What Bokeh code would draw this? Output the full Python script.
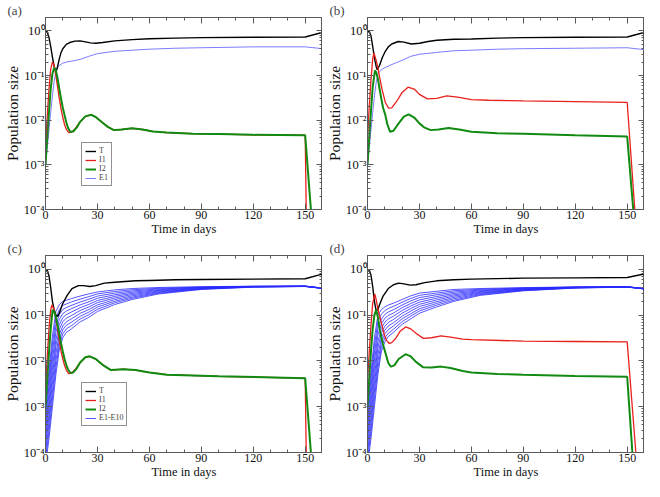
from bokeh.plotting import figure
from bokeh.layouts import column, row
from bokeh.models import (SingleIntervalTicker, FixedTicker, LinearAxis, LogAxis,
                          CustomJSTickFormatter, Legend)
from bokeh.embed import file_html
from bokeh.resources import INLINE

FONT = "Liberation Serif"
FRAME = "#5a5a5a"

# ---------------- data ----------------
x_major_interval = 30
y_ticks = [1e-4, 1e-3, 1e-2, 1e-1, 1.0]
y_tick_labels = ["10\u207b\u2074", "10\u207b\u00b3", "10\u207b\u00b2", "10\u207b\u00b9", "10\u2070"]
x_axis_title = "Time in days"
y_axis_title = "Population size"
panel_labels = ["(a)", "(b)", "(c)", "(d)"]

# panel (a)
tT_a = [0, 1, 2, 3, 4, 5, 6, 7, 8, 9, 10, 12, 14, 17, 20, 23, 26, 29, 33, 40, 50, 60, 75, 90, 120, 150, 160]
T_a = [1.0, 0.95, 0.72, 0.45, 0.26, 0.16, 0.12, 0.16, 0.24, 0.33, 0.4, 0.5, 0.55, 0.59, 0.6, 0.57, 0.54, 0.53, 0.55, 0.6, 0.64, 0.67, 0.69, 0.71, 0.72, 0.73, 0.93]
tI1_a = [0, 1, 2, 3, 4, 5, 6, 7, 8, 9, 10, 11, 12, 13.4, 15, 17, 20, 23, 26.5, 29, 33, 36, 39.5, 44, 50, 56, 62, 70, 85, 100, 120, 150, 150.6, 151.2]
I1_a = [0.0025, 0.012, 0.05, 0.14, 0.2, 0.17, 0.1, 0.055, 0.03, 0.018, 0.0115, 0.008, 0.0063, 0.0053, 0.0054, 0.0064, 0.0092, 0.0122, 0.0132, 0.0118, 0.0088, 0.0071, 0.006, 0.0062, 0.0066, 0.0062, 0.0056, 0.0053, 0.005, 0.0049, 0.0047, 0.0046, 0.0001, 0.00001]
tI2_a = [0, 1, 2, 3, 4, 5, 6, 7, 8, 9, 10, 11, 12, 13, 14.3, 16, 18, 20, 23, 26.5, 29, 33, 36, 39.5, 44, 50, 56, 62, 70, 85, 100, 120, 150, 153.3, 155]
I2_a = [0.001, 0.004, 0.015, 0.05, 0.11, 0.15, 0.13, 0.085, 0.05, 0.03, 0.019, 0.013, 0.009, 0.0068, 0.0055, 0.0056, 0.0068, 0.0092, 0.0122, 0.0132, 0.0118, 0.0088, 0.0071, 0.006, 0.0062, 0.0066, 0.0062, 0.0056, 0.0053, 0.005, 0.0049, 0.0047, 0.0046, 0.0001, 0.000015]
tE1_a = [0, 1, 2, 3, 4, 5, 6, 7, 8, 10, 12, 15, 20, 25, 30, 40, 50, 60, 75, 90, 120, 150, 160]
E1_a = [0.001, 0.0025, 0.006, 0.015, 0.035, 0.075, 0.12, 0.15, 0.17, 0.19, 0.2, 0.21, 0.23, 0.27, 0.31, 0.35, 0.37, 0.39, 0.41, 0.42, 0.44, 0.44, 0.40]

# panel (b)
tT_b = [0, 1, 2, 3, 4, 5, 5.6, 7, 8.5, 10.3, 12, 14, 17.8, 21, 25.3, 30, 35, 40, 50, 60, 75, 90, 120, 150, 160]
T_b = [1.0, 0.96, 0.78, 0.45, 0.25, 0.16, 0.135, 0.17, 0.25, 0.35, 0.44, 0.51, 0.58, 0.56, 0.51, 0.53, 0.58, 0.62, 0.65, 0.66, 0.69, 0.71, 0.72, 0.73, 0.93]
tI1_b = [0, 1, 2, 3, 3.7, 5, 6, 6.6, 8.4, 10.3, 12.2, 14, 17, 20, 23.4, 27, 30, 34.6, 40, 45.8, 52, 60, 70, 90, 120, 150, 154.4, 156]
I1_b = [0.004, 0.02, 0.08, 0.24, 0.32, 0.22, 0.15, 0.11, 0.049, 0.025, 0.0187, 0.019, 0.027, 0.042, 0.055, 0.05, 0.038, 0.03, 0.031, 0.035, 0.033, 0.029, 0.028, 0.027, 0.026, 0.025, 0.0001, 0.00003]
tI2_b = [0, 1, 2, 3, 4.3, 5, 6, 7, 8, 9, 10.3, 11.5, 13.1, 15, 18, 21, 23.8, 27, 30, 33, 36.5, 41, 46.8, 53, 60, 75, 90, 120, 150, 153.5, 155]
I2_b = [0.001, 0.004, 0.016, 0.055, 0.13, 0.12, 0.085, 0.05, 0.03, 0.019, 0.013, 0.008, 0.0055, 0.0058, 0.0085, 0.012, 0.0135, 0.0115, 0.0085, 0.0068, 0.006, 0.0062, 0.0067, 0.0062, 0.0055, 0.0051, 0.005, 0.0046, 0.0043, 0.0001, 0.00002]
tE1_b = [0, 1, 2, 3, 4, 5, 6, 8, 10, 13, 16, 20, 25, 30, 40, 50, 60, 75, 90, 120, 150, 160]
E1_b = [0.001, 0.0025, 0.006, 0.015, 0.035, 0.07, 0.11, 0.135, 0.15, 0.17, 0.19, 0.22, 0.27, 0.3, 0.33, 0.36, 0.37, 0.39, 0.4, 0.41, 0.42, 0.38]

# panel (c)
tT_c = [0, 1, 2, 3, 4, 5, 6, 7, 8, 9.7, 12.5, 15.3, 19, 22, 25.6, 29, 34, 40, 52, 60, 75, 90, 120, 150, 160]
T_c = [1.0, 0.95, 0.72, 0.4, 0.2, 0.13, 0.1, 0.094, 0.11, 0.17, 0.27, 0.38, 0.44, 0.44, 0.42, 0.44, 0.5, 0.52, 0.56, 0.57, 0.59, 0.6, 0.61, 0.62, 0.79]
tI1_c = [0, 1, 2, 3, 3.7, 5, 6, 7, 8, 9, 10, 11, 12, 13.4, 15, 17, 20, 23, 25.5, 29, 33, 37.8, 45, 52, 60, 70, 100, 150, 150.6, 151.2]
I1_c = [0.0025, 0.012, 0.05, 0.13, 0.166, 0.13, 0.085, 0.048, 0.027, 0.016, 0.011, 0.008, 0.0063, 0.0053, 0.0054, 0.0064, 0.0092, 0.012, 0.0126, 0.011, 0.0082, 0.0063, 0.0066, 0.0063, 0.0056, 0.005, 0.0046, 0.0042, 0.0001, 0.00001]
tI2_c = [0, 1, 2, 3, 4.1, 5, 6, 7, 8, 9, 10, 11, 12, 13, 14.3, 16, 18, 20, 23, 25.5, 29, 33, 37.8, 45, 52, 60, 70, 100, 150, 153.3, 155]
I2_c = [0.001, 0.004, 0.015, 0.05, 0.13, 0.12, 0.09, 0.06, 0.038, 0.024, 0.016, 0.011, 0.0082, 0.0065, 0.0055, 0.0056, 0.0068, 0.0092, 0.012, 0.0126, 0.011, 0.0082, 0.0063, 0.0066, 0.0063, 0.0056, 0.005, 0.0046, 0.0042, 0.0001, 0.000015]

# E1..E10 in panels (c) and (d), common time grid
tE = [0, 2, 4, 6, 8, 10, 12, 15, 20, 25, 30, 40, 50, 65, 90, 120, 150, 160]
E_c = [
    [1.0e-3, 6.0e-3, 0.035, 0.12, 0.17, 0.20, 0.21, 0.23, 0.26, 0.29, 0.32, 0.355, 0.38, 0.40, 0.417, 0.427, 0.43, 0.39],
    [7.2e-4, 4.1e-3, 0.0234, 0.085, 0.132, 0.163, 0.175, 0.194, 0.223, 0.253, 0.29, 0.327, 0.357, 0.384, 0.41, 0.425, 0.429, 0.389],
    [5.1e-4, 2.8e-3, 0.0158, 0.059, 0.103, 0.132, 0.146, 0.163, 0.193, 0.222, 0.26, 0.301, 0.336, 0.371, 0.404, 0.423, 0.428, 0.388],
    [3.7e-4, 1.9e-3, 0.0106, 0.042, 0.080, 0.108, 0.122, 0.138, 0.167, 0.195, 0.233, 0.277, 0.316, 0.357, 0.398, 0.421, 0.427, 0.387],
    [2.6e-4, 1.3e-3, 0.0072, 0.029, 0.062, 0.088, 0.102, 0.117, 0.145, 0.171, 0.208, 0.256, 0.297, 0.345, 0.392, 0.419, 0.426, 0.386],
    [1.9e-4, 9.1e-4, 0.0048, 0.021, 0.049, 0.072, 0.085, 0.098, 0.126, 0.150, 0.187, 0.236, 0.280, 0.333, 0.385, 0.417, 0.425, 0.385],
    [1.36e-4, 6.2e-4, 0.0033, 0.0145, 0.038, 0.058, 0.071, 0.083, 0.109, 0.132, 0.167, 0.217, 0.263, 0.321, 0.379, 0.415, 0.424, 0.384],
    [9.7e-5, 4.3e-4, 0.0022, 0.0102, 0.029, 0.048, 0.060, 0.070, 0.094, 0.116, 0.150, 0.200, 0.247, 0.310, 0.374, 0.413, 0.423, 0.383],
    [7.0e-5, 2.9e-4, 0.0015, 0.0071, 0.023, 0.039, 0.050, 0.059, 0.082, 0.102, 0.134, 0.185, 0.233, 0.299, 0.368, 0.411, 0.422, 0.382],
    [5.0e-5, 2.0e-4, 0.001, 0.005, 0.018, 0.032, 0.042, 0.050, 0.071, 0.089, 0.120, 0.170, 0.219, 0.288, 0.363, 0.407, 0.420, 0.380],
]

# panel (d)
tT_d = [0, 1, 2, 3, 4, 5, 6, 7, 9, 12, 15, 18, 21, 24.7, 28, 33, 40, 50, 60, 90, 120, 150, 160]
T_d = [1.0, 0.96, 0.75, 0.42, 0.2, 0.125, 0.13, 0.17, 0.26, 0.38, 0.46, 0.5, 0.48, 0.45, 0.46, 0.51, 0.56, 0.59, 0.61, 0.64, 0.65, 0.66, 0.79]
tI1_d = [0, 1, 2, 3, 4.2, 5, 6, 7.9, 9.7, 11, 12.6, 14, 16, 19, 22, 25, 28, 32.2, 37, 42.5, 48, 55, 60, 90, 120, 150, 155, 157]
I1_d = [0.004, 0.015, 0.06, 0.18, 0.29, 0.22, 0.135, 0.07, 0.037, 0.028, 0.024, 0.025, 0.03, 0.045, 0.055, 0.05, 0.04, 0.031, 0.032, 0.035, 0.033, 0.03, 0.029, 0.027, 0.0265, 0.026, 0.0001, 0.00002]
tI2_d = [0, 1, 2, 3, 4, 5, 6, 7, 8.8, 10.7, 12, 13.5, 15.5, 18, 22, 25, 28, 32, 37, 42.5, 48, 55, 60, 75, 90, 120, 150, 153, 155]
I2_d = [0.001, 0.004, 0.016, 0.05, 0.1, 0.13, 0.09, 0.05, 0.024, 0.0135, 0.009, 0.0075, 0.008, 0.011, 0.014, 0.0125, 0.0095, 0.0073, 0.0072, 0.0075, 0.007, 0.006, 0.0056, 0.0052, 0.005, 0.0047, 0.0045, 0.0001, 0.00002]
E_d = [
    [1.0e-3, 5.6e-3, 0.0316, 0.1, 0.132, 0.151, 0.166, 0.182, 0.219, 0.263, 0.302, 0.331, 0.363, 0.38, 0.398, 0.412, 0.417, 0.38],
    [7.2e-4, 3.9e-3, 0.0215, 0.072, 0.104, 0.125, 0.139, 0.155, 0.191, 0.231, 0.270, 0.303, 0.340, 0.366, 0.391, 0.41, 0.416, 0.379],
    [5.1e-4, 2.7e-3, 0.0147, 0.051, 0.082, 0.103, 0.117, 0.131, 0.166, 0.204, 0.241, 0.278, 0.318, 0.352, 0.384, 0.407, 0.415, 0.378],
    [3.7e-4, 1.85e-3, 0.01, 0.037, 0.065, 0.085, 0.098, 0.111, 0.145, 0.179, 0.215, 0.255, 0.297, 0.339, 0.377, 0.405, 0.414, 0.377],
    [2.6e-4, 1.28e-3, 0.0068, 0.026, 0.051, 0.070, 0.082, 0.095, 0.126, 0.158, 0.192, 0.234, 0.278, 0.326, 0.370, 0.402, 0.413, 0.376],
    [1.9e-4, 8.8e-4, 0.0046, 0.019, 0.041, 0.057, 0.069, 0.080, 0.110, 0.139, 0.172, 0.214, 0.261, 0.314, 0.363, 0.399, 0.412, 0.375],
    [1.36e-4, 6.1e-4, 0.0032, 0.0136, 0.032, 0.047, 0.058, 0.068, 0.095, 0.122, 0.154, 0.196, 0.244, 0.302, 0.356, 0.397, 0.411, 0.374],
    [9.7e-5, 4.2e-4, 0.0022, 0.0097, 0.025, 0.039, 0.048, 0.058, 0.083, 0.107, 0.137, 0.180, 0.228, 0.291, 0.350, 0.394, 0.41, 0.373],
    [7.0e-5, 2.9e-4, 0.0015, 0.007, 0.020, 0.032, 0.040, 0.049, 0.072, 0.095, 0.123, 0.165, 0.213, 0.280, 0.344, 0.392, 0.409, 0.372],
    [5.0e-5, 2.0e-4, 0.001, 0.005, 0.016, 0.026, 0.034, 0.042, 0.063, 0.083, 0.110, 0.151, 0.200, 0.269, 0.339, 0.389, 0.407, 0.371],
]
legend_ab = ["T", "I1", "I2", "E1"]
legend_cd = ["T", "I1", "I2", "E1-E10"]

# ---------------- styling ----------------
C_T, C_I1, C_I2 = "#000000", "#e8201c", "#108a10"
C_E1, C_EN = "#7b7bff", "#2a2aff"

y_minor = [m * t for t in y_ticks[:-1] for m in range(2, 10)] + [2.0]


def y_formatter():
    return CustomJSTickFormatter(args=dict(yt=y_ticks, yl=y_tick_labels), code="""
        let best = 0, bd = 1e9;
        for (let i = 0; i < yt.length; i++) {
            const d = Math.abs(Math.log10(yt[i]) - Math.log10(tick));
            if (d < bd) { bd = d; best = i; }
        }
        return yl[best];
    """)


def style_axis(ax, show, label_size="12.5px", tick_size="12px"):
    ax.axis_line_color = FRAME
    ax.major_tick_line_color = FRAME
    ax.minor_tick_line_color = FRAME
    ax.major_tick_in = 6
    ax.major_tick_out = 0
    ax.minor_tick_in = 3
    ax.minor_tick_out = 0
    ax.major_label_text_font = FONT
    ax.major_label_text_color = "#111111"
    ax.axis_label_text_font = FONT
    ax.axis_label_text_font_style = "normal"
    ax.axis_label_text_font_size = label_size
    ax.axis_label_text_color = "#111111"
    ax.axis_label_standoff = 0
    if show:
        ax.major_label_text_font_size = tick_size
        ax.major_label_standoff = 1
    else:
        ax.formatter = CustomJSTickFormatter(code="return '.';")
        ax.major_label_text_font_size = "1px"
        ax.major_label_text_alpha = 0
        ax.major_label_standoff = 0


def make_fig(label, w, h, left, right):
    p = figure(width=w, height=h, x_range=(0, 160), y_range=(1e-4, 2.0),
               y_axis_type="log", output_backend="svg", toolbar_location=None,
               min_border_left=left, min_border_right=right,
               min_border_top=0, min_border_bottom=0, title=label)
    p.grid.visible = False
    p.outline_line_color = FRAME
    p.background_fill_color = "white"
    p.border_fill_color = "white"
    p.title.text_font = FONT
    p.title.text_font_size = "13px"
    p.title.text_font_style = "normal"
    p.title.align = "left"
    p.title.offset = -38
    p.title.standoff = 0

    p.xaxis.ticker = SingleIntervalTicker(interval=x_major_interval, num_minor_ticks=3)
    p.yaxis.ticker = FixedTicker(ticks=y_ticks, minor_ticks=y_minor)
    p.yaxis.formatter = y_formatter()
    p.xaxis.axis_label = x_axis_title
    p.yaxis.axis_label = y_axis_title
    for ax in p.xaxis:
        style_axis(ax, True, "12.5px", "12px")
    for ax in p.yaxis:
        style_axis(ax, True, "15.5px", "12.5px")

    top_ax = LinearAxis(ticker=SingleIntervalTicker(interval=x_major_interval, num_minor_ticks=3))
    right_ax = LogAxis(ticker=FixedTicker(ticks=y_ticks, minor_ticks=y_minor))
    style_axis(top_ax, False)
    style_axis(right_ax, False)
    p.add_layout(top_ax, "above")
    p.add_layout(right_ax, "right")
    return p


def add_legend(p, items, x, y):
    lg = Legend(items=items, location=(x, y))
    lg.label_text_font = FONT
    lg.label_text_font_size = "8px"
    lg.label_height = 6
    lg.label_width = 6
    lg.glyph_height = 6
    lg.glyph_width = 11
    lg.label_standoff = 3
    lg.spacing = -1
    lg.padding = 3
    lg.margin = 0
    lg.border_line_color = "#222222"
    lg.border_line_width = 1
    lg.background_fill_alpha = 1
    p.add_layout(lg, "center")


pa = make_fig(panel_labels[0], 322, 238, 36, 0)
pb = make_fig(panel_labels[1], 322, 238, 36, 0)
pc = make_fig(panel_labels[2], 322, 243, 36, 0)
pd = make_fig(panel_labels[3], 322, 243, 36, 0)

# (a)
rE = pa.line(tE1_a, E1_a, line_color=C_E1, line_width=1)
rT = pa.line(tT_a, T_a, line_color=C_T, line_width=1.4)
r1 = pa.line(tI1_a, I1_a, line_color=C_I1, line_width=1.3)
r2 = pa.line(tI2_a, I2_a, line_color=C_I2, line_width=2.0)
add_legend(pa, [(legend_ab[0], [rT]), (legend_ab[1], [r1]), (legend_ab[2], [r2]), (legend_ab[3], [rE])], 36, 23)

# (b)
pb.line(tE1_b, E1_b, line_color=C_E1, line_width=1)
pb.line(tT_b, T_b, line_color=C_T, line_width=1.4)
pb.line(tI1_b, I1_b, line_color=C_I1, line_width=1.3)
pb.line(tI2_b, I2_b, line_color=C_I2, line_width=2.0)

# (c)
rEs = [pc.line(tE, e, line_color=C_EN, line_width=0.8) for e in E_c]
rT = pc.line(tT_c, T_c, line_color=C_T, line_width=1.4)
r1 = pc.line(tI1_c, I1_c, line_color=C_I1, line_width=1.3)
r2 = pc.line(tI2_c, I2_c, line_color=C_I2, line_width=2.0)
add_legend(pc, [(legend_cd[0], [rT]), (legend_cd[1], [r1]), (legend_cd[2], [r2]), (legend_cd[3], [rEs[0]])], 36, 26)

# (d)
for e in E_d:
    pd.line(tE, e, line_color=C_EN, line_width=0.8)
pd.line(tT_d, T_d, line_color=C_T, line_width=1.4)
pd.line(tI1_d, I1_d, line_color=C_I1, line_width=1.3)
pd.line(tI2_d, I2_d, line_color=C_I2, line_width=2.0)

layout = column(row(pa, pb), row(pc, pd))
open("out.html", "w").write(file_html(layout, INLINE, title="Population size"))
